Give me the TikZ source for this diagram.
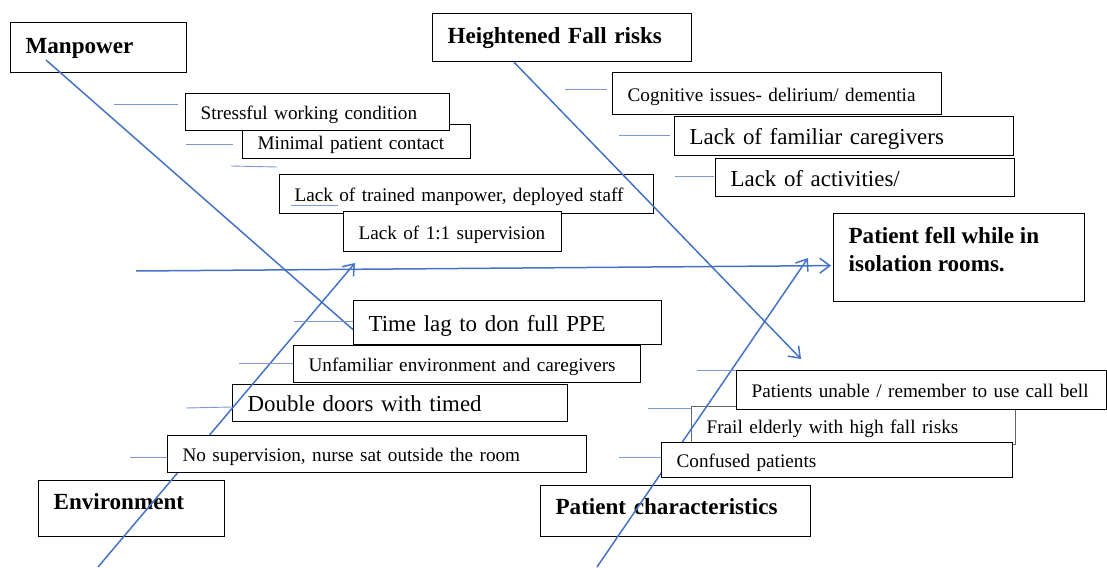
\documentclass[tikz,border=0pt]{standalone}
\usepackage{fontspec}
\setmainfont{Liberation Serif}
\usetikzlibrary{arrows.meta}
\definecolor{fishblue}{RGB}{68,114,196}
\definecolor{stubblue}{RGB}{122,152,212}

\begin{document}
\begin{tikzpicture}[x=1pt,y=-1pt,>={Straight Barb[length=10pt,width=15pt]},
  causebox/.style={draw,line width=1.2pt,fill=white,anchor=north west,inner xsep=15pt,inner ysep=0pt,align=left,
    text height=16.5pt,text depth=1.5pt,font=\fontsize{19.2}{23}\selectfont},
  bigbox/.style={causebox,text height=19.5pt,text depth=2.5pt,font=\fontsize{22.9}{28}\selectfont},
  headbox/.style={causebox,text height=16pt,text depth=5pt,font=\fontsize{23.1}{28}\selectfont\bfseries},
  effectbox/.style={draw,line width=1.2pt,fill=white,anchor=north west,inner xsep=15pt,inner ysep=14pt,font=\fontsize{23.1}{28}\selectfont\bfseries},
  bone/.style={draw=fishblue,line width=1.5pt},
  stub/.style={draw=stubblue,line width=0.9pt}]
\useasboundingbox (0,0) rectangle (1107,567);
\node[headbox,text width=146,minimum height=50] (manpower) at (10,22) {Manpower};
\node[headbox,text width=229,minimum height=48] (heightened) at (432,13) {Heightened Fall risks};
\node[causebox,text width=198,minimum height=34] (minimal) at (242,124) {Minimal patient contact};
\node[causebox,text width=234,minimum height=37] (stress) at (185,93) {Stressful working condition};
\node[causebox,text width=344,minimum height=39] (trained) at (279,174) {Lack of trained manpower, deployed staff};
\node[causebox,text width=188,minimum height=40] (onetoone) at (343,211) {\mbox{Lack of 1:1 supervision}};
\node[causebox,text width=299,minimum height=42] (cognitive) at (612,72) {Cognitive issues- delirium/ dementia};
\node[bigbox,text width=309,minimum height=39] (familiar) at (674,116) {Lack of familiar caregivers};
\node[bigbox,text width=269,minimum height=38] (activities) at (715,158) {Lack of activities/};
\node[effectbox] (effect) at (833,213) {\parbox[t][60pt][t]{221pt}{\raggedright Patient fell while in\\isolation rooms.}};
\node[bigbox,text width=278,minimum height=44] (timelag) at (353,300) {Time lag to don full PPE};
\node[causebox,text width=317,minimum height=37] (unfamiliar) at (293,345) {Unfamiliar environment and caregivers};
\node[bigbox,text width=305,minimum height=37] (doubledoors) at (232,384) {Double doors with timed};
\node[headbox,text width=156,minimum height=56,text height=12pt,text depth=10pt] (environment) at (38,480) {Environment};
\node[causebox,draw=black!60,text width=294,minimum height=38] (frail) at (691,406) {Frail elderly with high fall risks};
\node[causebox,text width=340,minimum height=39] (unable) at (736,370) {\mbox{Patients unable / remember to use call bell}};
\node[headbox,text width=240,minimum height=51,text height=14.5pt,text depth=7.5pt] (patchar) at (540,485) {Patient characteristics};

\coordinate (mpFoot) at (46,60);
\coordinate (envFoot) at (98,567);
\coordinate (pcFoot) at (597,567);
\coordinate (spineStart) at (136,271);
\coordinate (envTip) at (355,263);
\coordinate (pcTip) at (808,258);
\coordinate (hfTip) at (801,359);
\draw[bone,->] (spineStart) -- ([yshift=-8pt,xshift=-2pt]effect.west);
\draw[bone] (mpFoot) -- ([yshift=-7pt]timelag.west);
\draw[bone,->] ([xshift=82pt]heightened.south west) -- (hfTip);
\draw[bone,->] (envFoot) -- (envTip);
\draw[bone,->] (pcFoot) -- (pcTip);

\node[causebox,text width=389,minimum height=37] (nosup) at (167,435) {No supervision, nurse sat outside the room};
\node[causebox,text width=321,minimum height=35] (confused) at (661,442) {Confused patients};

\foreach \xa/\xb/\ya in {114/178/104,186/233/144,291/338/205,565/607/89,619/670/135,675/714/176,294/353/321,239/293/363,130/167/457,697/736/370,648/691/408,619/661/457}
  \draw[stub] (\xa,\ya) -- (\xb,\ya);
\draw[stub] (231,166) -- (277,167);
\draw[stub] (186,408) -- (232,407);
\end{tikzpicture}
\end{document}
